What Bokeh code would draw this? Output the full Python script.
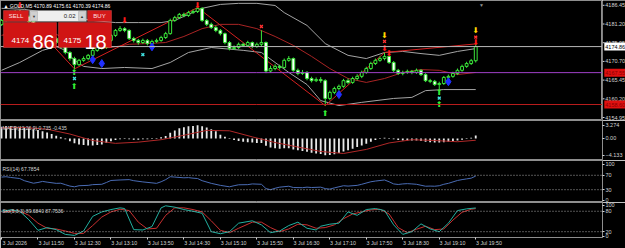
from bokeh.plotting import figure
from bokeh.layouts import column, row
from bokeh.models import Range1d, FixedTicker, Span, Label, BoxAnnotation, LinearAxis
from bokeh.core.properties import value
from bokeh.embed import file_html
from bokeh.resources import INLINE

# ---------------- data ----------------
opens = [4181.0, 4182.2, 4183.6, 4184.4, 4184.7, 4184.2, 4183.3, 4181.9, 4181.1, 4180.2,
         4179.1, 4178.0, 4177.1, 4176.0, 4174.9, 4173.2, 4171.5, 4169.8, 4171.0, 4171.5,
         4172.4, 4173.8, 4174.9, 4174.6, 4176.6, 4178.0, 4179.4, 4179.9, 4179.4, 4177.1,
         4176.6, 4176.0, 4176.6, 4175.7, 4176.3, 4176.6, 4177.4, 4178.5, 4182.2, 4183.0,
         4183.9, 4183.6, 4184.4, 4184.7, 4185.6, 4182.2, 4181.1, 4180.2, 4179.4, 4178.5,
         4176.0, 4174.3, 4174.6, 4175.5, 4175.2, 4176.0, 4174.9, 4175.5, 4176.0, 4168.0,
         4168.7, 4169.3, 4169.0, 4171.0, 4171.5, 4168.2, 4167.3, 4167.6, 4165.9, 4165.3,
         4165.6, 4165.3, 4160.3, 4162.0, 4163.1, 4163.7, 4165.3, 4164.8, 4165.9, 4166.5,
         4167.6, 4168.7, 4170.1, 4171.0, 4171.5, 4172.1, 4170.4, 4168.2, 4167.3, 4167.6,
         4167.9, 4167.6, 4168.2, 4167.0, 4165.3, 4165.1, 4164.2, 4164.5, 4166.2, 4166.5,
         4167.3, 4168.2, 4169.3, 4170.1, 4170.89]
highs = [4182.6, 4184.0, 4184.9, 4185.1, 4185.2, 4184.5, 4183.6, 4182.4, 4181.5, 4180.6,
         4179.5, 4178.6, 4177.5, 4176.3, 4175.3, 4173.6, 4172.0, 4171.4, 4172.1, 4172.8,
         4174.2, 4175.5, 4175.3, 4177.0, 4178.4, 4179.8, 4180.6, 4180.3, 4179.7, 4177.6,
         4177.0, 4177.1, 4177.0, 4176.8, 4177.1, 4177.9, 4179.0, 4182.7, 4183.5, 4184.3,
         4184.4, 4184.9, 4185.3, 4185.8, 4185.9, 4182.6, 4181.6, 4180.7, 4179.8, 4178.8,
         4176.4, 4175.2, 4176.0, 4175.9, 4176.5, 4176.3, 4176.0, 4179.4, 4176.3, 4169.5,
         4169.9, 4169.8, 4171.5, 4172.2, 4171.8, 4168.7, 4168.3, 4168.0, 4166.4, 4166.2,
         4166.3, 4165.7, 4162.5, 4163.6, 4164.2, 4165.8, 4165.9, 4166.4, 4167.1, 4168.1,
         4169.2, 4170.6, 4171.5, 4172.1, 4173.2, 4172.2, 4170.8, 4168.6, 4168.1, 4168.4,
         4168.3, 4168.7, 4168.5, 4167.4, 4165.8, 4165.5, 4165.0, 4166.6, 4167.0, 4167.8,
         4168.7, 4169.8, 4170.6, 4171.4, 4175.61]
lows = [4180.7, 4181.9, 4183.2, 4184.0, 4183.8, 4182.9, 4181.5, 4180.6, 4179.8, 4178.7,
        4177.4, 4176.8, 4175.6, 4174.3, 4172.7, 4170.9, 4168.6, 4169.4, 4170.6, 4171.0,
        4172.0, 4173.4, 4174.0, 4174.2, 4176.2, 4177.6, 4179.0, 4178.9, 4176.7, 4176.0,
        4175.4, 4175.6, 4175.2, 4175.3, 4175.9, 4176.2, 4177.0, 4178.2, 4181.8, 4182.6,
        4183.1, 4183.2, 4184.0, 4184.3, 4181.8, 4180.6, 4179.8, 4178.9, 4178.0, 4175.5,
        4173.8, 4173.9, 4174.2, 4174.8, 4174.9, 4174.4, 4174.5, 4175.0, 4167.4, 4167.5,
        4168.2, 4168.4, 4168.6, 4170.6, 4167.8, 4166.8, 4166.9, 4165.4, 4164.8, 4164.9,
        4164.7, 4158.3, 4159.8, 4161.5, 4162.6, 4163.3, 4164.3, 4164.4, 4165.4, 4166.0,
        4167.2, 4168.3, 4169.7, 4170.6, 4171.0, 4170.0, 4167.7, 4166.9, 4166.8, 4167.2,
        4167.1, 4167.2, 4166.6, 4164.9, 4164.6, 4163.8, 4162.8, 4164.1, 4165.8, 4166.1,
        4166.9, 4167.8, 4168.9, 4169.7, 4170.39]
closes = [4182.2, 4183.6, 4184.4, 4184.7, 4184.2, 4183.3, 4181.9, 4181.1, 4180.2, 4179.1,
          4178.0, 4177.1, 4176.0, 4174.9, 4173.2, 4171.5, 4169.8, 4171.0, 4171.5, 4172.4,
          4173.8, 4174.9, 4174.6, 4176.6, 4178.0, 4179.4, 4179.9, 4179.4, 4177.1, 4176.6,
          4176.0, 4176.6, 4175.7, 4176.3, 4176.6, 4177.4, 4178.5, 4182.2, 4183.0, 4183.9,
          4183.6, 4184.4, 4184.7, 4185.6, 4182.2, 4181.1, 4180.2, 4179.4, 4178.5, 4176.0,
          4174.3, 4174.6, 4175.5, 4175.2, 4176.0, 4174.9, 4175.5, 4176.0, 4168.0, 4168.7,
          4169.3, 4169.0, 4171.0, 4171.5, 4168.2, 4167.3, 4167.6, 4165.9, 4165.3, 4165.6,
          4165.3, 4160.3, 4162.0, 4163.1, 4163.7, 4165.3, 4164.8, 4165.9, 4166.5, 4167.6,
          4168.7, 4170.1, 4171.0, 4171.5, 4172.1, 4170.4, 4168.2, 4167.3, 4167.6, 4167.9,
          4167.6, 4168.2, 4167.0, 4165.3, 4165.1, 4164.2, 4164.5, 4166.2, 4166.5, 4167.3,
          4168.2, 4169.3, 4170.1, 4170.9, 4174.86]
bar_idx = list(range(len(closes)))

time_idx = [0, 8, 16, 24, 32, 40, 48, 56, 64, 72, 80, 88, 96, 104]
time_labels = ["3 Jul 2026", "3 Jul 11:50", "3 Jul 12:30", "3 Jul 13:10", "3 Jul 13:50",
               "3 Jul 14:30", "3 Jul 15:10", "3 Jul 15:50", "3 Jul 16:30", "3 Jul 17:10",
               "3 Jul 17:50", "3 Jul 18:30", "3 Jul 19:10", "3 Jul 19:50"]
price_ticks = [4154.95, 4160.20, 4165.45, 4170.70, 4175.95, 4181.20, 4186.45]

bb_up_idx = [0, 5, 10, 15, 20, 25, 30, 35, 38, 41, 44, 48, 52, 56, 60, 62, 67, 71, 76, 80, 84, 88, 92, 96, 100, 104]
bb_up = [4185.6, 4185.3, 4184.4, 4183.3, 4182.2, 4181.6, 4181.6, 4181.6, 4182.2, 4183.9, 4185.6, 4186.7, 4187.0,
         4187.0, 4186.4, 4184.4, 4180.8, 4175.7, 4172.4, 4171.5, 4173.2, 4173.5, 4172.9, 4172.4, 4173.5, 4174.3]
bb_lo_idx = [0, 4, 9, 12, 14, 16, 18, 22, 27, 33, 37, 41, 46, 53, 57, 60, 63, 67, 70, 74, 79, 86, 90, 93, 97, 104]
bb_lo = [4168.2, 4170.4, 4173.8, 4174.9, 4173.8, 4171.0, 4169.3, 4168.7, 4169.0, 4168.7, 4170.4, 4173.2, 4174.6,
         4173.8, 4173.2, 4170.4, 4167.6, 4164.2, 4159.7, 4158.3, 4159.2, 4160.3, 4160.6, 4162.5, 4162.8, 4162.8]
ma_idx = [0, 4, 8, 12, 16, 20, 24, 28, 32, 36, 40, 44, 48, 52, 56, 60, 64, 68, 72, 76, 80, 84, 88, 92, 96, 100, 104]
ma_val = [4178.0, 4179.4, 4179.4, 4178.3, 4176.0, 4174.3, 4174.6, 4175.5, 4175.7, 4176.0, 4177.7, 4179.9, 4181.1,
          4181.1, 4179.9, 4177.7, 4175.2, 4172.1, 4168.7, 4165.9, 4164.8, 4165.9, 4167.6, 4168.4, 4168.2, 4167.0, 4167.6]
zz_idx = [4, 16, 43, 71, 84, 104]
zz_val = [4185.2, 4168.6, 4185.8, 4158.3, 4173.2, 4175.61]

current_price = 4174.86
purple_level = 4167.55
red_level = 4158.60
box_vals = [current_price, purple_level, red_level]
box_texts = ["4174.86", "4167.55", "4158.60"]

red_dn_idx = [4, 27, 43, 84, 85, 104]
red_dn_val = [4186.4, 4182.2, 4186.5, 4174.3, 4173.0, 4176.0]
yel_dn_idx = [84, 104]
yel_dn_val = [4178.0, 4179.4]
red_x_idx = [57, 84, 104]
red_x_val = [4180.5, 4176.3, 4177.5]
grn_up_idx = [16, 16, 71, 96, 96]
grn_up_val = [4167.6, 4163.7, 4156.0, 4162.1, 4158.7]
cyan_x_idx = [16, 31, 96]
cyan_x_val = [4165.9, 4172.6, 4160.4]
blue_d_idx = [20, 22, 33, 74, 98]
blue_d_val = [4171.2, 4170.1, 4174.8, 4161.4, 4165.0]

macd_hist = [2.9, 3.0, 3.0, 2.9, 2.8, 2.7, 2.5, 2.3, 2.1, 1.8,
             1.5, 1.1, 0.7, 0.3, -0.2, -0.7, -1.2, -1.5, -1.6, -1.7,
             -1.7, -1.6, -1.5, -1.1, -0.7, -0.4, -0.2, -0.1, -0.2, -0.3,
             -0.3, -0.2, -0.2, -0.1, 0.1, 0.3, 0.6, 1.4, 2.0, 2.5,
             2.8, 3.0, 3.1, 3.27, 3.0, 2.7, 2.3, 1.8, 0.9, 0.4,
             -0.1, -0.4, -0.6, -0.8, -0.9, -1.0, -1.1, -1.1, -1.8, -2.2,
             -2.4, -2.5, -2.4, -2.4, -2.7, -2.9, -3.1, -3.3, -3.5, -3.7,
             -3.8, -4.13, -4.1, -3.9, -3.6, -3.2, -2.9, -2.5, -2.1, -1.7,
             -1.3, -0.8, -0.4, -0.1, 0.2, 0.1, -0.2, -0.4, -0.5, -0.5,
             -0.5, -0.5, -0.6, -0.8, -0.9, -1.0, -1.0, -0.9, -0.8, -0.7,
             -0.5, -0.3, -0.1, 0.2, 0.735]
sig_idx = [0, 5, 10, 15, 20, 25, 30, 35, 40, 45, 50, 55, 60, 65, 70, 75, 80, 85, 90, 95, 100, 104]
sig_val = [2.6, 2.7, 2.3, 1.1, -0.5, -1.2, -0.9, -0.3, 0.8, 2.0, 1.9, 0.4, -1.0, -2.1, -3.2, -3.7, -2.7, -1.1,
           -0.3, -0.5, -0.8, -0.435]

rsi_idx = [0, 1, 2, 4, 5, 7, 8, 9, 10, 12, 13, 14, 15, 16, 17, 19, 20, 22, 23, 24, 26, 28, 29, 31, 33, 34, 35,
           36, 37, 38, 40, 41, 42, 43, 44, 46, 48, 50, 51, 52, 54, 55, 57, 58, 59, 60, 61, 63, 64, 66, 67, 68,
           70, 71, 72, 73, 75, 76, 78, 79, 81, 82, 84, 85, 86, 87, 88, 89, 90, 91, 93, 94, 95, 96, 97, 98,
           100, 101, 102, 103, 104]
rsi_val = [65, 66, 64, 61, 55, 48, 50, 53, 51, 47.6, 48, 44, 40, 38, 41, 42, 44, 45, 50, 55.6, 57, 58, 55, 51.6,
           49, 47.6, 52, 58, 66, 65, 63, 63.6, 62, 61, 55, 47.6, 42, 38, 41, 43.6, 44, 46, 45, 33, 30, 34, 37,
           39.6, 36, 35.6, 37, 36, 37, 33, 31.6, 35, 41, 40, 42, 45, 52, 54, 57, 52, 46, 44.5, 46, 46.8, 46, 45,
           39.6, 40, 39.6, 41, 45, 47.6, 55.6, 58, 60, 62, 67.79]

stk_idx = [0, 2, 4, 6, 8, 10, 12, 14, 16, 18, 20, 22, 24, 26, 27, 29, 31, 33, 35, 36, 38, 40, 42, 44, 46, 48,
           50, 52, 55, 57, 59, 61, 63, 65, 67, 69, 70, 72, 74, 76, 78, 80, 82, 84, 86, 88, 90, 92, 94, 96, 98,
           100, 102, 104]
stk_val = [80, 84, 80, 55, 24, 32, 26, 12, 9, 22, 65, 78, 85, 90, 88, 26, 25, 35, 90, 96, 92, 85, 80, 74, 20,
           14, 20, 45, 52, 40, 17, 22, 38, 48, 30, 25, 36, 42, 45, 78, 68, 85, 88, 82, 40, 12, 20, 43, 28, 20,
           45, 82, 87, 89.68]
std_idx = [0, 2, 4, 6, 8, 10, 12, 14, 16, 18, 20, 22, 24, 26, 28, 30, 32, 34, 36, 38, 40, 42, 44, 46, 48, 50,
           52, 55, 57, 59, 61, 63, 65, 67, 69, 71, 73, 75, 77, 79, 81, 83, 85, 87, 89, 91, 93, 95, 97, 99, 101,
           103, 104]
std_val = [78, 80, 81, 68, 45, 30, 28, 22, 15, 15, 38, 63, 78, 86, 82, 48, 28, 30, 68, 90, 90, 85, 78, 52, 24,
           17, 30, 48, 48, 32, 20, 28, 42, 40, 30, 32, 40, 58, 72, 78, 84, 86, 72, 32, 17, 27, 36, 26, 28, 54,
           77, 86, 87.75]

# ---------------- styling ----------------
FONT = "Liberation Sans"
AXC = "#d4d4d4"
W = 625
RB = 23
CANDLE = "#3ae63a"
X0, X1 = -0.22, 131.8
LABEL_SHIFT = 2.9          # left-aligns time labels at their ticks

x_rng = Range1d(X0, X1)


def panel(h, y0, y1, bottom=False, axis=True):
    p = figure(width=(W if axis else W - RB), height=h, x_range=x_rng, y_range=Range1d(y0, y1),
               output_backend="svg", toolbar_location=None,
               y_axis_location=("right" if axis else None),
               x_axis_location=("below" if bottom else None),
               min_border_left=0, min_border_right=(RB if axis else 0), min_border_top=0, min_border_bottom=0)
    p.background_fill_color = "black"
    p.border_fill_color = "black"
    p.outline_line_color = "#8e8e8e"
    p.xgrid.visible = False
    p.ygrid.visible = False
    if axis:
        ya = p.yaxis[0]
        ya.axis_line_color = None
        ya.major_tick_line_color = AXC
        ya.major_tick_out = 2
        ya.major_tick_in = 0
        ya.minor_tick_line_color = None
        ya.major_label_standoff = 1
        ya.major_label_text_color = AXC
        ya.major_label_text_font = FONT
        ya.major_label_text_font_size = "5.5px"
    return p


def slabel(p, x, y, text, color="white", size="5px", align="left", baseline="middle"):
    p.add_layout(Label(x=x, y=y, x_units="screen", y_units="screen", text=text, text_color=color,
                       text_font=FONT, text_font_size=size, text_align=align, text_baseline=baseline))


# ---------------- main price panel ----------------
main = panel(120, 4154.11, 4187.80, axis=False)

main.line(bb_up_idx, bb_up, line_color="#a4a4a4", line_width=1)
main.line(bb_lo_idx, bb_lo, line_color="#a4a4a4", line_width=1)
main.line(ma_idx, ma_val, line_color="#a82424", line_width=1)
main.line(zz_idx, zz_val, line_color="#d42020", line_width=1)

main.add_layout(Span(location=current_price, dimension="width", line_color="#b8b8b8", line_width=1))
main.add_layout(Span(location=purple_level, dimension="width", line_color="#a040c8", line_width=1))
main.add_layout(Span(location=red_level, dimension="width", line_color="#b81c1c", line_width=1))

fills = ["black" if c >= o else "white" for o, c in zip(opens, closes)]
main.segment(x0=bar_idx, y0=lows, x1=bar_idx, y1=highs, line_color=CANDLE, line_width=1)
main.vbar(x=bar_idx, bottom=opens, top=closes, width=0.62, fill_color=fills, line_color=CANDLE, line_width=1)

arrow_font = value("DejaVu Sans")
main.text(x=red_dn_idx, y=red_dn_val, text=["⬇"] * len(red_dn_idx), text_font=arrow_font,
          text_font_size="8px", text_color="#ff1a1a", text_align="center", text_baseline="middle")
main.text(x=yel_dn_idx, y=yel_dn_val, text=["⬇"] * len(yel_dn_idx), text_font=arrow_font,
          text_font_size="8px", text_color="#ffd700", text_align="center", text_baseline="middle")
main.text(x=grn_up_idx, y=grn_up_val, text=["⬆"] * len(grn_up_idx), text_font=arrow_font,
          text_font_size="8px", text_color="#33ee33", text_align="center", text_baseline="middle")
main.scatter(red_x_idx, red_x_val, marker="x", size=4, line_color="#ff3030", line_width=1.4)
main.scatter(cyan_x_idx, cyan_x_val, marker="x", size=4, line_color="#40e0e0", line_width=1.4)
main.scatter(blue_d_idx, blue_d_val, marker="diamond", size=8, fill_color="#2030ff", line_color="#2030ff")

# header
slabel(main, 3, 115, "▲ GOLD,M5  4170.89 4175.61 4170.39 4174.86", color="white", size="5px")
slabel(main, 481, 116, "▼", color="#909090", size="5px", align="center")

# one-click trading panel
def sbox(p, l, r, b, t, fill, line):
    p.add_layout(BoxAnnotation(left=l, right=r, bottom=b, top=t, left_units="screen", right_units="screen",
                               bottom_units="screen", top_units="screen", fill_color=fill, fill_alpha=1.0,
                               line_color=line, line_width=1))

sbox(main, 3, 28, 99, 110, "#d41a1a", "#ff7070")
sbox(main, 29, 86, 99, 110, "#eeeeee", "#8a8a8a")
sbox(main, 30, 37, 100, 109, "#d0d0d0", "#8a8a8a")
sbox(main, 78, 85, 100, 109, "#d0d0d0", "#8a8a8a")
sbox(main, 87, 111, 99, 110, "#d41a1a", "#ff7070")
sbox(main, 3, 56, 73, 98, "#d01414", "#ff7070")
sbox(main, 58, 111, 73, 98, "#d01414", "#ff7070")
slabel(main, 15.5, 104.5, "SELL", color="#ffe0e0", size="6px", align="center")
slabel(main, 99, 104.5, "BUY", color="#ffe0e0", size="6px", align="center")
slabel(main, 33.5, 104.5, "▼", color="#333333", size="4px", align="center")
slabel(main, 81.5, 104.5, "▲", color="#333333", size="4px", align="center")
slabel(main, 75, 104.5, "0.02", color="#222222", size="6px", align="right")
slabel(main, 11, 80, "4174", color="white", size="8px", baseline="alphabetic")
slabel(main, 32, 79, "86", color="white", size="20px", baseline="alphabetic")
slabel(main, 63, 80, "4175", color="white", size="8px", baseline="alphabetic")
slabel(main, 84, 79, "18", color="white", size="20px", baseline="alphabetic")

# price scale strip (shares the main y scale)
strip = figure(width=RB, height=120, x_range=Range1d(0, RB), y_range=main.y_range, output_backend="svg",
               toolbar_location=None, x_axis_location=None, y_axis_location=None, min_border=0)
strip.background_fill_color = "black"
strip.border_fill_color = "black"
strip.outline_line_color = None
strip.xgrid.visible = False
strip.ygrid.visible = False
nt = len(price_ticks)
strip.segment(x0=[0] * nt, x1=[2] * nt, y0=price_ticks, y1=price_ticks, line_color=AXC, line_width=1)
strip.text(x=[2.8] * nt, y=price_ticks, text=[f"{t:.2f}" for t in price_ticks], text_font=value(FONT),
           text_font_size="5.5px", text_color=AXC, text_baseline="middle")
strip.rect(x=[12.3] * 3, y=box_vals, width=21, height=8, height_units="screen",
           fill_color=["white", "#e01010", "#e01010"], line_color=None)
strip.text(x=[2.8] * 3, y=box_vals, text=box_texts, text_font=value(FONT), text_font_size="5.5px",
           text_color=["black", "#8a0000", "#8a0000"], text_baseline="middle")

# ---------------- MACD panel ----------------
macd = panel(40, -5.43, 4.44)
macd.yaxis[0].ticker = FixedTicker(ticks=[3.274, 0, -4.133])
macd.yaxis[0].major_label_overrides = {0: "0.00"}
macd.vbar(x=bar_idx, top=macd_hist, bottom=0, width=0.4, fill_color="#e8e8e8", line_color=None)
macd.line(sig_idx, sig_val, line_color="#b02828", line_width=1)
slabel(macd, 2, 33, "MACD(12,26,9) 0.735 -0.435", color="#d8d8d8", size="5px")

# ---------------- RSI panel ----------------
rsi = panel(42, -5.6, 111.1)
rsi.yaxis[0].ticker = FixedTicker(ticks=[100, 70, 30, 1])
rsi.yaxis[0].major_label_overrides = {1: "0"}
for lv in (70, 30):
    rsi.add_layout(Span(location=lv, dimension="width", line_color="#a8a8a8", line_width=1, line_dash="1 2"))
rsi.line(rsi_idx, rsi_val, line_color="#4a6cb4", line_width=1)
slabel(rsi, 2, 34, "RSI(14) 67.7854", color="#d8d8d8", size="5px")

# ---------------- Stochastic panel ----------------
sto = panel(46, 2.9, 105.7, bottom=True)
sto.yaxis[0].ticker = FixedTicker(ticks=[97, 80, 20, 7])
sto.yaxis[0].major_label_overrides = {97: "100", 7: "0"}
for lv in (80, 20):
    sto.add_layout(Span(location=lv, dimension="width", line_color="#a8a8a8", line_width=1, line_dash="1 2"))
sto.line(std_idx, std_val, line_color="#c83030", line_width=1)
sto.line(stk_idx, stk_val, line_color="#22b0a0", line_width=1)
slabel(sto, 2, 27, "Sto(5,3,3) 89.6840 87.7536", color="#d8d8d8", size="5px")

# time axis: tick marks on the main x scale, labels on a shifted copy so they start at the tick
xa = sto.xaxis[0]
xa.ticker = FixedTicker(ticks=time_idx)
xa.major_label_overrides = {i: "" for i in time_idx}
xa.major_label_text_font_size = "1px"
xa.major_label_standoff = 0
xa.axis_line_color = None
xa.major_tick_line_color = AXC
xa.major_tick_out = 2
xa.major_tick_in = 0
xa.minor_tick_line_color = None

sto.extra_x_ranges = {"lab": Range1d(X0 - LABEL_SHIFT, X1 - LABEL_SHIFT)}
la = LinearAxis(x_range_name="lab", ticker=FixedTicker(ticks=time_idx),
                major_label_overrides={i: s for i, s in zip(time_idx, time_labels)})
la.axis_line_color = None
la.major_tick_line_color = None
la.minor_tick_line_color = None
la.major_tick_out = 0
la.major_tick_in = 0
la.major_label_standoff = 0
la.major_label_text_color = AXC
la.major_label_text_font = FONT
la.major_label_text_font_size = "5.3px"
sto.add_layout(la, "below")

layout = column(row(main, strip, spacing=0), macd, rsi, sto, spacing=0)
open("out.html", "w").write(file_html(layout, INLINE))
